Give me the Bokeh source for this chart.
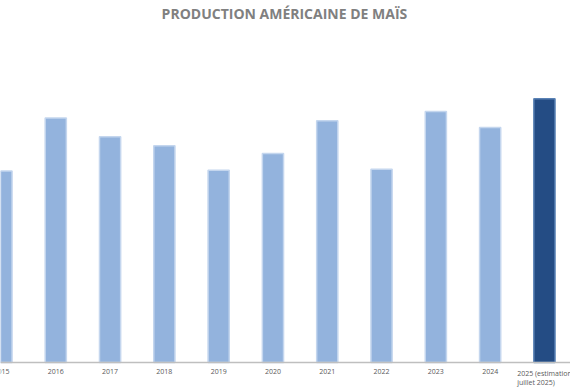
from bokeh.plotting import figure
from bokeh.models import Range1d, ColumnDataSource, LabelSet, Label
from bokeh.core.properties import value
from bokeh.embed import file_html
from bokeh.resources import INLINE

title_text = "PRODUCTION AMÉRICAINE DE MAÏS"
years = ["2015", "2016", "2017", "2018", "2019", "2020", "2021", "2022", "2023", "2024",
         "2025 (estimation\njuillet 2025)"]
production = [13.60, 15.15, 14.60, 14.34, 13.62, 14.11, 15.07, 13.65, 15.34, 14.87, 15.71]
fills = ["#93B3DD"] * 10 + ["#244C84"]
borders = ["#C4D6EE"] * 10 + ["#5A82B5"]

BASE = 8.0                 # value at the category axis
Y_START, Y_END = 7.27, 18.585
X0, X1 = -0.018, 10.48

xs = list(range(len(years)))
src = ColumnDataSource(dict(x=xs, top=production, fill=fills, border=borders,
                            label=years, base=[BASE] * len(xs)))

p = figure(width=570, height=387, output_backend="svg", toolbar_location=None,
           x_range=Range1d(X0, X1), y_range=Range1d(Y_START, Y_END),
           min_border_left=0, min_border_right=0, min_border_top=0, min_border_bottom=0)
p.vbar(x="x", top="top", bottom=BASE, width=0.39, source=src,
       fill_color="fill", line_color="border", line_width=1.5)

p.grid.visible = False
p.outline_line_color = None
p.yaxis.visible = False
p.xaxis.visible = False

# category axis line
p.segment(x0=[X0], y0=[BASE], x1=[X1], y1=[BASE], line_color="#BFBFBF", line_width=1.5)

labels = LabelSet(x="x", y="base", text="label", source=src, y_offset=-6,
                  text_align="center", text_baseline="top",
                  text_font=value("Open Sans"), text_font_size=value("7px"),
                  text_line_height=1.1, text_color=value("#595959"))
p.add_layout(labels)

title = Label(x=(X0 + X1) / 2 - 0.02, y=Y_END, y_offset=-13, text=title_text,
              text_align="center", text_baseline="middle",
              text_font="Open Sans", text_font_size="14px", text_font_style="bold",
              text_color="#808080")
p.add_layout(title)

open("out.html", "w").write(file_html(p, INLINE))
